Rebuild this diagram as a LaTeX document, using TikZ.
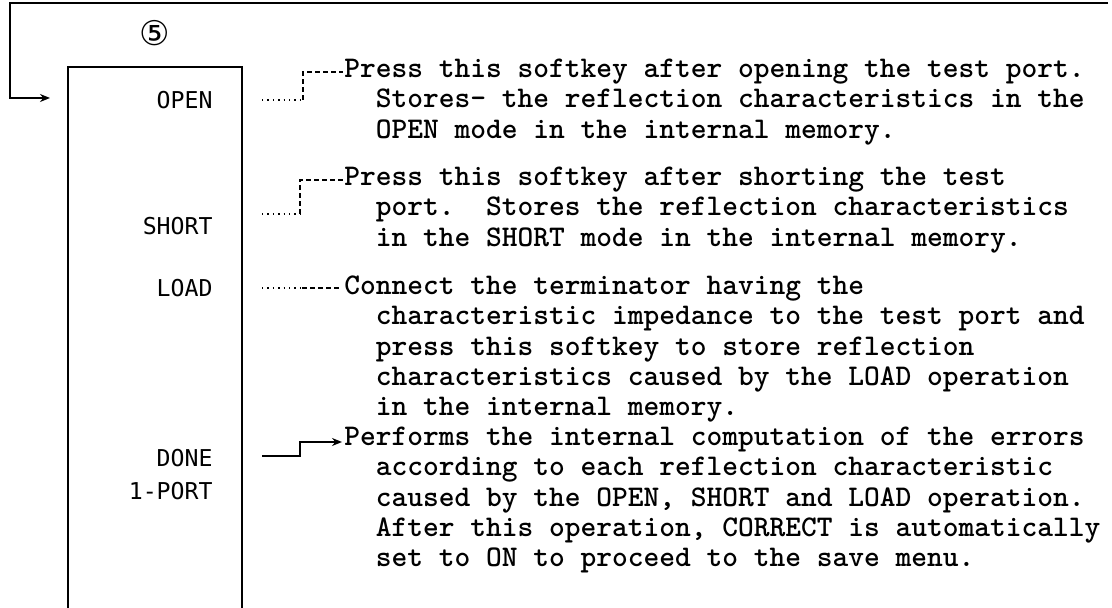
\documentclass[tikz,border=0pt]{standalone}
\usepackage{fontspec}
\newfontfamily\keyfont{DejaVu Sans Mono}
\newfontfamily\markfont{DejaVu Sans}
\usetikzlibrary{arrows.meta, positioning}

\begin{document}
\begin{tikzpicture}[
  x=0.5pt, y=-0.5pt,
  key/.style={anchor=east, inner sep=0pt, align=right,
    font=\keyfont\fontsize{11.6pt}{16.5pt}\selectfont},
  note/.style={anchor=west, inner sep=0pt, align=left,
    font=\ttfamily\bfseries\frenchspacing\fontsize{15pt}{15.2pt}\selectfont},
  dots/.style={dotted, line width=0.7pt},
  lead/.style={dashed, line width=0.6pt, dash pattern=on 2.5pt off 1.5pt},
  arr/.style={-{Stealth[length=5pt, width=4pt]}, line width=0.8pt}
]
\useasboundingbox (0,0) rectangle (1112,608);

% softkey menu, open at the bottom
\draw[line width=1pt] (68,608) |- (242,67) -- (242,608);
\node[font=\markfont\fontsize{17pt}{17pt}\selectfont] (num) at (155,33) {⑤};

% return line from the previous menu
\coordinate (prev) at (1108,3);
\coordinate (entry) at (50,98);
\draw[arr, line width=1pt] (prev) -- (10,3) |- (entry);

% softkeys
\node[key] (open) at (213,100) {OPEN};
\node[key] (short) at (213,226) {SHORT};
\node[key] (load) at (213,288) {LOAD};
\node[key] (done) at (213,475) {DONE\\1-PORT};

% explanations
\node[note] (opennote) at (344,102) {Press this softkey after opening the test port.\\
  \phantom{xx}Stores- the reflection characteristics in the\\
  \phantom{xx}OPEN mode in the internal memory.};
\node[note] (shortnote) at (344,210) {Press this softkey after shorting the test\\
  \phantom{xx}port.\ \ Stores the reflection characteristics\\
  \phantom{xx}in the SHORT mode in the internal memory.};
\node[note] (loadnote) at (344,349) {Connect the terminator having the\\
  \phantom{xx}characteristic impedance to the test port and\\
  \phantom{xx}press this softkey to store reflection\\
  \phantom{xx}characteristics caused by the LOAD operation\\
  \phantom{xx}in the internal memory.};
\node[note] (donenote) at (344,500) {Performs the internal computation of the errors\\
  \phantom{xx}according to each reflection characteristic\\
  \phantom{xx}caused by the OPEN, SHORT and LOAD operation.\\
  \phantom{xx}After this operation, CORRECT is automatically\\
  \phantom{xx}set to ON to proceed to the save menu.};

\coordinate (opentip) at (343,72);
\coordinate (shorttip) at (343,180);
\coordinate (loadtip) at (341,288);
\coordinate (donetip) at (342,442);

% leaders
\draw[dots] ([xshift=24.5pt]open.east) -- ++(41,0) coordinate (openbend);
\draw[lead] (openbend) |- (opentip);
\draw[dots] ([xshift=24.5pt, yshift=6pt]short.east) -- ++(38,0) coordinate (shortbend);
\draw[lead] (shortbend) |- (shorttip);
\draw[dots] ([xshift=24.5pt]load.east) -- ++(40,0) coordinate (loadbend);
\draw[lead] (loadbend) -- (loadtip);
\draw[arr] ([xshift=24.5pt, yshift=9.5pt]done.east) -- ++(38,0) |- (donetip);
\end{tikzpicture}
\end{document}
